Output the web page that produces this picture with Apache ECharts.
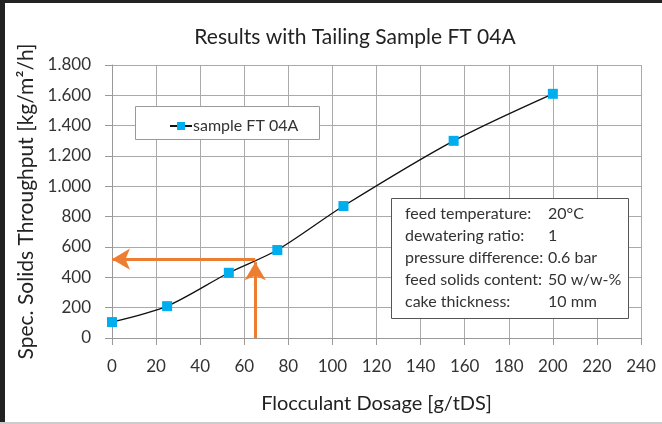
<!DOCTYPE html>
<html lang="en">
<head>
    <meta charset="UTF-8">
    <title>Results with Tailing Sample FT 04A</title>
    <script src="https://cdn.jsdelivr.net/npm/echarts@6/dist/echarts.min.js"></script>
    <style>
        html, body {margin: 0; padding: 0; background: #fff;}
        #main {width: 662px; height: 424px;}
    </style>
</head>
<body>
    <div id="main"></div>
    <script>
        // sample FT 04A measurements
        var dosage = [0, 25, 53, 75, 105, 155, 200];
        var throughput = [105, 210, 430, 580, 870, 1300, 1610];
        // reading guide (orange arrows)
        var readDosage = 65;
        var readThroughput = 520;
        var readTip = 500;
        var infoLabels = ['feed temperature:', 'dewatering ratio:', 'pressure difference:', 'feed solids content:', 'cake thickness:'];
        var infoValues = ['20°C', '1', '0.6 bar', '50 w/w-%', '10 mm'];

        var font = 'Lato';
        var myChart = echarts.init(document.getElementById('main'));

        var pts = [];
        for (var i = 0; i < dosage.length; i++) {
            pts.push([dosage[i], throughput[i]]);
        }

        var infoText = [];
        for (var j = 0; j < infoLabels.length; j++) {
            infoText.push({
                type: 'text', left: 405, top: 206 + j * 22,
                style: {text: infoLabels[j], font: '16px ' + font, fill: '#333'}
            });
            infoText.push({
                type: 'text', left: 548, top: 206 + j * 22,
                style: {text: infoValues[j], font: '16px ' + font, fill: '#333'}
            });
        }

        var option = {
            backgroundColor: '#fff',
            animation: false,
            textStyle: {fontFamily: font},
            title: {
                text: 'Results with Tailing Sample FT 04A',
                left: 350, textAlign: 'center', top: 22,
                textStyle: {fontSize: 21, fontWeight: 'normal', color: '#222'}
            },
            grid: {left: 112, right: 21, top: 65, bottom: 86},
            legend: {
                left: 164, top: 113,
                itemWidth: 22, itemHeight: 10,
                itemGap: 2,
                textStyle: {fontSize: 16, color: '#333', padding: [0, 0, 0, -4]},
                data: ['sample FT 04A']
            },
            xAxis: {
                type: 'value', min: 0, max: 240, interval: 20,
                name: 'Flocculant Dosage [g/tDS]', nameLocation: 'middle', nameGap: 56,
                nameTextStyle: {fontSize: 20, color: '#222'},
                axisLine: {lineStyle: {color: '#999'}},
                axisTick: {show: true, length: 7, lineStyle: {color: '#999'}},
                axisLabel: {fontSize: 17, color: '#333', margin: 20},
                splitLine: {lineStyle: {color: '#aaa'}}
            },
            yAxis: {
                type: 'value', min: 0, max: 1800, interval: 200,
                name: 'Spec. Solids Throughput [kg/m²/h]', nameLocation: 'middle', nameGap: 73,
                nameTextStyle: {fontSize: 21, color: '#222'},
                axisLine: {show: true, lineStyle: {color: '#999'}},
                axisTick: {show: true, length: 7, lineStyle: {color: '#999'}},
                axisLabel: {
                    fontSize: 17, color: '#333', margin: 21,
                    formatter: function (v) {
                        return String(v).replace(/\B(?=(\d{3})+(?!\d))/g, '.');
                    }
                },
                splitLine: {lineStyle: {color: '#aaa'}}
            },
            series: [{
                name: 'sample FT 04A',
                type: 'line',
                smooth: 0.3,
                data: pts,
                symbol: 'rect',
                symbolSize: 10,
                itemStyle: {color: '#00aeef'},
                lineStyle: {color: '#111', width: 1.3},
                z: 3
            }, {
                name: 'guide',
                type: 'line',
                data: [],
                silent: true,
                markLine: {
                    silent: true,
                    symbol: ['none', 'arrow'],
                    symbolSize: [16, 18],
                    label: {show: false},
                    lineStyle: {color: '#ed7d31', width: 3, type: 'solid'},
                    data: [
                        [{coord: [readDosage, 0]}, {coord: [readDosage, readTip]}],
                        [{coord: [readDosage, readThroughput]}, {coord: [0, readThroughput]}]
                    ]
                },
                z: 4
            }],
            graphic: [
                {type: 'rect', shape: {x: 0, y: 0, width: 662, height: 3}, style: {fill: '#222'}},
                {type: 'rect', shape: {x: 0, y: 0, width: 5, height: 424}, style: {fill: '#222'}},
                {type: 'rect', shape: {x: 0, y: 422, width: 662, height: 2}, style: {fill: '#ccc'}},
                {type: 'rect', z: 1, shape: {x: 135.5, y: 106.5, width: 184, height: 33}, style: {fill: '#fff', stroke: '#999', lineWidth: 1}},
                {type: 'rect', z: 1, shape: {x: 391.5, y: 198.5, width: 237, height: 120}, style: {fill: '#fff', stroke: '#555', lineWidth: 1}}
            ].concat(infoText.map(function (t) { t.z = 2; return t; }))
        };
        myChart.setOption(option);
    </script>
</body>
</html>
